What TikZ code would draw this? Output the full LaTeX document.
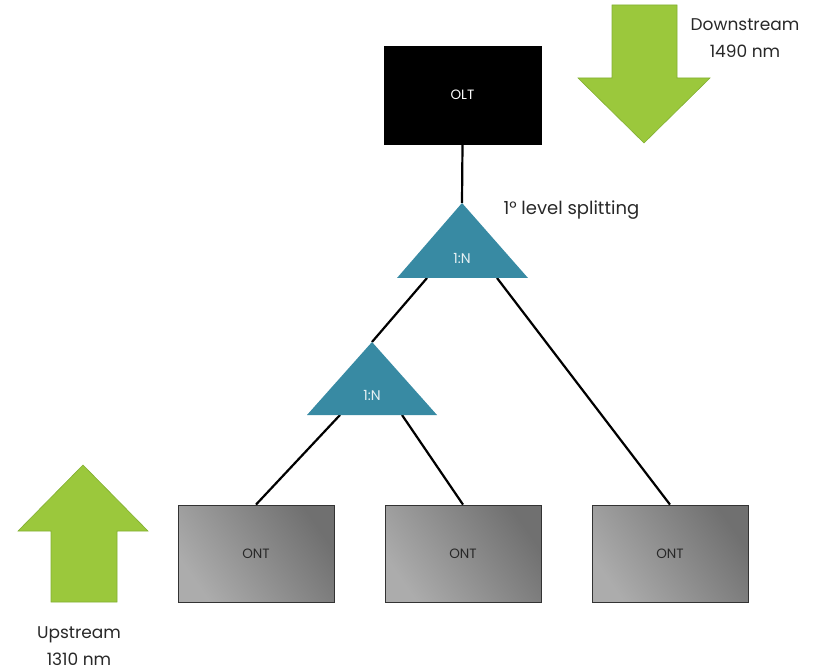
\documentclass[tikz,border=0pt]{standalone}
\usepackage{fontspec}
\setmainfont{Poppins}
\usetikzlibrary{shapes.geometric}
\definecolor{splitteal}{RGB}{56,138,163}
\definecolor{arrowgreen}{RGB}{155,200,60}
\definecolor{arrowedge}{RGB}{130,175,50}
\definecolor{ontlight}{RGB}{172,172,172}
\definecolor{ontdark}{RGB}{112,112,112}
\definecolor{labeltext}{RGB}{40,40,40}
\tikzset{
  olt/.style={draw=black, fill=black, minimum width=157pt, minimum height=98pt, inner sep=0pt,
    text=white, font=\fontsize{13.5}{16}\selectfont},
  ont/.style={draw=black!80, line width=0.8pt, shading=axis, left color=ontlight, right color=ontdark,
    shading angle=125, minimum width=156pt, minimum height=97pt, inner sep=0pt,
    text=labeltext, font=\fontsize{13.5}{16}\selectfont},
  splitter/.style={draw=none, fill=splitteal},
  splitlabel/.style={text=white!88!splitteal, font=\fontsize{14}{16}\selectfont},
  link/.style={draw=black, line width=2.2pt},
  bigarrow/.style={fill=arrowgreen, draw=arrowedge, line width=0.6pt},
  caption/.style={text=labeltext, font=\fontsize{17}{27}\selectfont, align=center}
}
\begin{document}
\begin{tikzpicture}[x=1pt, y=-1pt]
\useasboundingbox (0,0) rectangle (817,671);

% splitter triangles (apex, base corners)
\coordinate (s1top) at (462,203);
\coordinate (s1l) at (397,278);
\coordinate (s1r) at (528,278);
\coordinate (s2top) at (372,342);
\coordinate (s2l) at (307,415);
\coordinate (s2r) at (437,415);

% equipment boxes
\node[olt] (olt) at (462.5,95) {OLT};
\node[ont] (ont1) at (256,553.5) {ONT};
\node[ont] (ont2) at (463,553.5) {ONT};
\node[ont] (ont3) at (670,553.5) {ONT};

\coordinate (s1outl) at (427,278);
\coordinate (s1outr) at (497,278);
\coordinate (s2outl) at (340,415);
\coordinate (s2outr) at (402,415);

% fibre links
\draw[link] (olt.south) -- (s1top);
\draw[link] (s1outl) -- (s2top);
\draw[link] (s1outr) -- (ont3.north);
\draw[link] (s2outl) -- (ont1.north);
\draw[link] (s2outr) -- (ont2.north);

\fill[splitter] (s1top) -- (s1r) -- (s1l) -- cycle;
\fill[splitter] (s2top) -- (s2r) -- (s2l) -- cycle;
\node[splitlabel] (n1) at (462,258) {1:N};
\node[splitlabel] (n2) at (372,395) {1:N};

% downstream arrow
\draw[bigarrow] (612,5) -- (677,5) -- (677,78) -- (710,78) -- (644,143) -- (578,78) -- (612,78) -- cycle;
% upstream arrow
\draw[bigarrow] (83,465) -- (148,531) -- (117,531) -- (117,602) -- (51,602) -- (51,531) -- (18,531) -- cycle;

\node[caption] (down) at (745,38) {Downstream\\1490 nm};
\node[caption] (up) at (79,646) {Upstream\\1310 nm};
\node[caption, anchor=west, font=\fontsize{18}{22}\selectfont] (lvl) at (500,210) {1° level splitting};
\end{tikzpicture}
\end{document}
